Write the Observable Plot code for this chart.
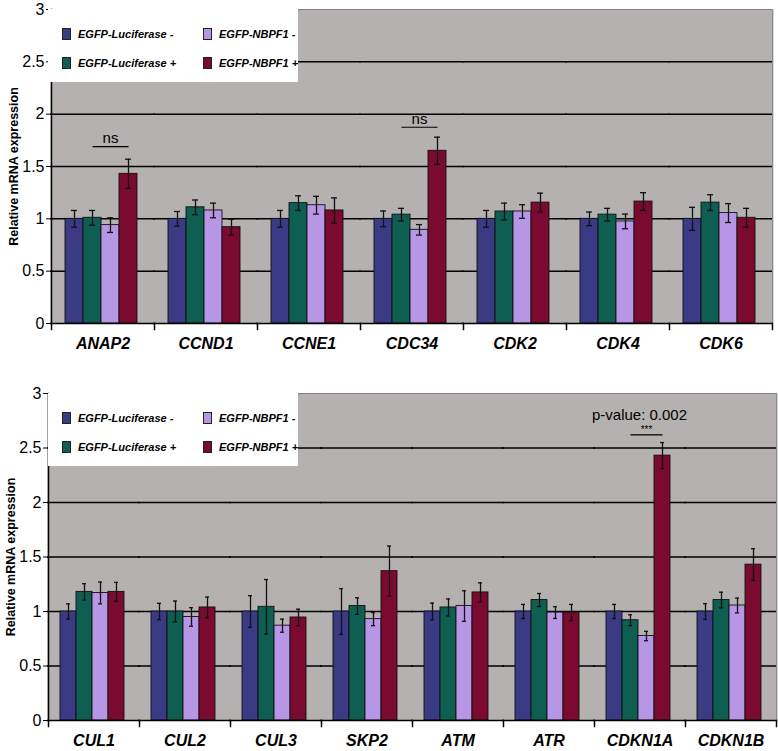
<!DOCTYPE html>
<html><head><meta charset="utf-8">
<script src="https://cdn.jsdelivr.net/npm/d3@7"></script>
<script src="https://cdn.jsdelivr.net/npm/@observablehq/plot@0.6"></script>
<style>
body{margin:0;background:#fff;font-family:"Liberation Sans",Arial,sans-serif}
.panel{position:relative;width:778px}
.panel svg{display:block;font-family:"Liberation Sans",Arial,sans-serif}
.legend{position:absolute;background:#fff;width:250px}
.item{position:absolute;display:flex;align-items:center;font-weight:bold;font-style:italic;font-size:11px;color:#000;white-space:nowrap}
.sw{width:7px;height:10px;border:1px solid #222;margin-right:7px}
</style></head>
<body><div id="root"></div>
<script>
// ---- data ----
const series = ["EGFP-Luciferase -", "EGFP-Luciferase +", "EGFP-NBPF1 -", "EGFP-NBPF1 +"];
const colors = ["#3b3a85", "#0e5e52", "#b896e6", "#7a0a30"];
const yTicks = [0, 0.5, 1, 1.5, 2, 2.5, 3];
const gridTicks = [0.5, 1, 1.5, 2, 2.5];

const topGenes = ["ANAP2", "CCND1", "CCNE1", "CDC34", "CDK2", "CDK4", "CDK6"];
const topLucMinus = [1, 1, 1, 1, 1, 1, 1];
const topLucPlus  = [1.01, 1.11, 1.15, 1.04, 1.07, 1.04, 1.155];
const topNbMinus  = [0.94, 1.08, 1.13, 0.895, 1.07, 0.975, 1.055];
const topNbPlus   = [1.43, 0.92, 1.08, 1.65, 1.155, 1.165, 1.01];
const topErrLucMinus = [0.08, 0.07, 0.08, 0.075, 0.08, 0.065, 0.11];
const topErrLucPlus  = [0.07, 0.07, 0.07, 0.06, 0.08, 0.06, 0.075];
const topErrNbMinus  = [0.07, 0.07, 0.085, 0.05, 0.065, 0.07, 0.09];
const topErrNbPlus   = [0.14, 0.075, 0.12, 0.13, 0.09, 0.085, 0.09];

const botGenes = ["CUL1", "CUL2", "CUL3", "SKP2", "ATM", "ATR", "CDKN1A", "CDKN1B"];
const botLucMinus = [1, 1, 1, 1, 1, 1, 1, 1];
const botLucPlus  = [1.18, 1.0, 1.043, 1.05, 1.037, 1.105, 0.92, 1.105];
const botNbMinus  = [1.17, 0.95, 0.87, 0.93, 1.05, 0.99, 0.775, 1.055];
const botNbPlus   = [1.18, 1.037, 0.945, 1.37, 1.175, 0.99, 2.43, 1.43];
const botErrLucMinus = [0.07, 0.075, 0.145, 0.21, 0.077, 0.065, 0.065, 0.072];
const botErrLucPlus  = [0.075, 0.096, 0.25, 0.076, 0.078, 0.06, 0.05, 0.072];
const botErrNbMinus  = [0.1, 0.085, 0.06, 0.06, 0.14, 0.054, 0.043, 0.068];
const botErrNbPlus   = [0.087, 0.095, 0.076, 0.23, 0.088, 0.075, 0.12, 0.146];

// significance annotations
const topAnnotGenes = ["ANAP2", "CDC34"];
const topAnnotLine = [1.69, 1.875];
const topAnnotLabel = ["ns", "ns"];
const topAnnotLabelY = [1.77, 1.955];
const botAnnotGenes = ["CDKN1A"];
const botAnnotLine = [2.62];
const botAnnotLabel = ["***"];
const botAnnotLabelY = [2.665];
const botPValueLabel = ["p-value: 0.002"];
const botPValueY = [2.8];

const yLabel = "Relative mRNA expression";

// ---- build ----
function rows(genes, vals, errs) {
  const out = [];
  genes.forEach((g, i) => series.forEach((s, j) => out.push({gene: g, series: s, value: vals[j][i], err: errs[j][i]})));
  return out;
}

function panel(genes, data, annots, extraText, dims) {
  const {height, marginTop, marginBottom, marginLeft, marginRight, paddingOuter, align} = dims;
  const innerH = height - marginTop - marginBottom;
  const marks = [
    Plot.frame({fill: "#b5b1b1", stroke: null, insetLeft: -1, insetRight: -1}),
    Plot.ruleY(gridTicks, {stroke: "#000", strokeWidth: 1.5, insetLeft: -1, insetRight: -1}),
    Plot.ruleY([3], {stroke: "#7e7e7e", strokeWidth: 1, insetLeft: -1, insetRight: -1}),
    Plot.frame({anchor: "right", facetAnchor: "right", stroke: "#8a8a8a"}),
    Plot.barY(data, {fx: "gene", x: "series", y: "value", fill: "series", stroke: "#111", strokeWidth: 0.9}),
    Plot.ruleX(data, {fx: "gene", x: "series", y1: d => d.value - d.err, y2: d => d.value + d.err, stroke: "#111", strokeWidth: 1.3}),
    Plot.tickY(data, {fx: "gene", x: "series", y: d => d.value - d.err, stroke: "#111", strokeWidth: 1.3, insetLeft: 6, insetRight: 6}),
    Plot.tickY(data, {fx: "gene", x: "series", y: d => d.value + d.err, stroke: "#111", strokeWidth: 1.3, insetLeft: 6, insetRight: 6}),
    Plot.ruleY([0], {stroke: "#000", strokeWidth: 1.5, insetLeft: -1, insetRight: -1}),
    Plot.frame({anchor: "left", facetAnchor: "left", stroke: "#000", strokeWidth: 1.5}),
    Plot.frame({anchor: "left", stroke: "#000", strokeWidth: 1.5, insetTop: innerH, insetBottom: -6}),
    Plot.frame({anchor: "right", facetAnchor: "right", stroke: "#000", strokeWidth: 1.5, insetTop: innerH, insetBottom: -6}),
    Plot.axisY({ticks: yTicks, tickSize: 5, tickPadding: 2, tickFormat: d => String(d), fontSize: 16, label: null, stroke: "#000"}),
    Plot.axisFx({anchor: "bottom", tickSize: 0, tickPadding: 14, fontSize: 16, fontWeight: "bold", fontStyle: "italic", label: null}),
    Plot.text([yLabel], {frameAnchor: "left", rotate: -90, dx: -38, textAnchor: "middle", fontWeight: "bold", fontSize: 12.5, facetAnchor: "left", text: d => d, fill: "#000"}),
    Plot.link(annots, {fx: "gene", x1: () => series[1], x2: () => series[3], y1: "line", y2: "line", stroke: "#000", strokeWidth: 1.2}),
    Plot.text(annots, {fx: "gene", x: () => series[2], y: "labelY", text: "label", fontSize: d => d.size, fill: "#000"})
  ];
  if (extraText) marks.push(Plot.text(extraText, {fx: "gene", x: () => series[2], y: "y", text: "label", fontSize: 15, dx: -7, fill: "#000"}));
  return Plot.plot({
    width: 778, height, marginTop, marginBottom, marginLeft, marginRight,
    style: {background: "transparent", fontFamily: "Liberation Sans, Arial, sans-serif", color: "#000"},
    fx: {domain: genes, padding: 0, axis: null},
    x: {domain: series, paddingInner: 0, paddingOuter, align, axis: null},
    y: {domain: [0, 3], axis: null},
    color: {domain: series, range: colors},
    marks
  });
}

function legend(container, top) {
  const lg = document.createElement("div");
  lg.className = "legend";
  lg.style.left = "48px"; lg.style.top = top + "px"; lg.style.height = "73px";
  series.forEach((s, j) => {
    const it = document.createElement("div");
    it.className = "item";
    const col = j >= 2 ? 1 : 0, row = j % 2;
    it.style.left = (col ? 155 : 14) + "px";
    it.style.top = (row ? 48 : 19) + "px";
    const sw = document.createElement("span");
    sw.className = "sw"; sw.style.background = colors[j];
    it.appendChild(sw);
    it.appendChild(document.createTextNode(s));
    lg.appendChild(it);
  });
  container.appendChild(lg);
}

const root = document.getElementById("root");

const topData = rows(topGenes, [topLucMinus, topLucPlus, topNbMinus, topNbPlus], [topErrLucMinus, topErrLucPlus, topErrNbMinus, topErrNbPlus]);
const topAnn = topAnnotGenes.map((g, i) => ({gene: g, line: topAnnotLine[i], label: topAnnotLabel[i], labelY: topAnnotLabelY[i], size: 15}));
const p1 = document.createElement("div"); p1.className = "panel";
p1.appendChild(panel(topGenes, topData, topAnn, null, {height: 366, marginTop: 9, marginBottom: 43, marginLeft: 48, marginRight: 3, paddingOuter: 0.75, align: 0.45}));
legend(p1, 9);
root.appendChild(p1);

const botData = rows(botGenes, [botLucMinus, botLucPlus, botNbMinus, botNbPlus], [botErrLucMinus, botErrLucPlus, botErrNbMinus, botErrNbPlus]);
const botAnn = botAnnotGenes.map((g, i) => ({gene: g, line: botAnnotLine[i], label: botAnnotLabel[i], labelY: botAnnotLabelY[i], size: 10}));
const botExtra = botAnnotGenes.map((g, i) => ({gene: g, label: botPValueLabel[i], y: botPValueY[i]}));
const p2 = document.createElement("div"); p2.className = "panel";
p2.appendChild(panel(botGenes, botData, botAnn, botExtra, {height: 385, marginTop: 27, marginBottom: 31, marginLeft: 48, marginRight: 2, paddingOuter: 0.74, align: 0.46}));
legend(p2, 27);
root.appendChild(p2);
</script>
</body></html>
